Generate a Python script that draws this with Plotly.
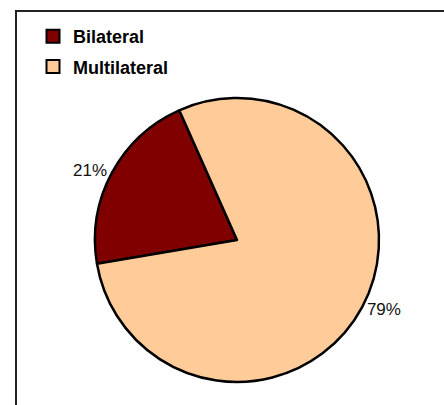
import plotly.graph_objects as go

labels = ["Bilateral", "Multilateral"]
values = [21, 79]
colors = ["#800000", "#FFCC99"]

W, H = 444, 405

fig = go.Figure()

fig.add_trace(go.Pie(
    labels=labels,
    values=values,
    marker=dict(colors=colors, line=dict(color="black", width=2.5)),
    sort=False,
    direction="clockwise",
    rotation=-99.6,
    textposition="outside",
    texttemplate="%{percent:.0%}",
    textfont=dict(family="Liberation Sans, Arial", size=17, color="#111"),
    showlegend=False,
    hoverinfo="label+percent",
    domain=dict(x=[95 / W, 379 / W], y=[1 - 382 / H, 1 - 98 / H]),
))

for i, (lab, col) in enumerate(zip(labels, colors)):
    fig.add_trace(go.Scatter(
        x=[None], y=[None], mode="markers", name=lab,
        legendgroup=lab,
        marker=dict(symbol="square", size=13, color=col,
                    line=dict(color="black", width=2)),
    ))

fig.update_layout(
    width=W, height=H,
    margin=dict(l=0, r=0, t=0, b=0),
    paper_bgcolor="white",
    plot_bgcolor="white",
    xaxis=dict(visible=False),
    yaxis=dict(visible=False),
    legend=dict(
        x=33 / W, y=1 - 18 / H, xanchor="left", yanchor="top",
        font=dict(family="Liberation Sans, Arial", size=18, color="black", weight="bold"),
        tracegroupgap=4,
        bgcolor="rgba(0,0,0,0)",
    ),
    shapes=[dict(type="rect", xref="paper", yref="paper",
                 x0=16 / W, y0=-0.1, x1=1.1, y1=1 - 11 / H,
                 line=dict(color="#222", width=2))],
)

fig.write_html("out.html", config={"displayModeBar": False},
               post_script="document.body.style.margin='0';document.body.style.overflow='hidden';")
